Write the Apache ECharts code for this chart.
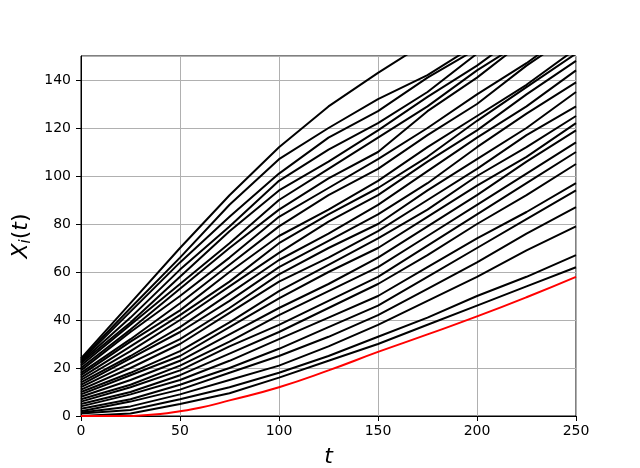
<!DOCTYPE html>
<html>
<head>
<meta charset="utf-8">
<script src="https://cdn.jsdelivr.net/npm/echarts@6/dist/echarts.min.js"></script>
<style>
  html, body { margin: 0; padding: 0; background: #fff; }
  #main { width: 640px; height: 468px; }
</style>
</head>
<body>
<div id="main"></div>
<script>
var myChart = echarts.init(document.getElementById('main'));

// sample times for the black paths
var tPoints = [0, 25, 50, 75, 100, 125, 150, 175, 200, 225, 250];

// X_i(t), top path first
var walks = [
	[24, 47, 70, 92, 112, 129, 143, 156, 166, 180, 194],
	[23.5, 45, 66, 88, 107, 120, 132, 142, 155, 166, 177],
	[23, 43.5, 64, 83, 101, 116, 127, 141, 153, 168, 180],
	[22.5, 41, 61, 79, 98, 111, 122, 135, 151, 165, 182],
	[22, 39, 58, 77, 94, 106, 119, 133, 146, 161, 174],
	[21, 38, 55, 72, 90, 103, 116, 129, 144, 157, 173],
	[20, 36, 53, 70, 86, 99, 110, 127, 141, 157, 172],
	[19, 35, 50, 66, 83, 95, 107, 120, 134, 147, 162],
	[18, 32, 47, 63, 79, 92, 103, 117, 130, 146, 160],
	[17, 31, 44, 60, 75, 86, 98, 112, 125, 138, 153],
	[16, 29, 42, 56, 72, 84, 95, 108, 123, 137, 151],
	[15, 27, 40, 54, 68, 81, 92, 106, 119, 134, 148],
	[14, 25, 37, 51, 65, 76, 88, 102, 116, 129, 144],
	[13, 24, 35, 48, 62, 73, 84, 97, 112, 126, 139],
	[12, 22, 32, 45, 59, 70, 80, 94, 107, 120, 135],
	[11, 20, 30, 43, 56, 66, 77, 90, 103, 117, 129],
	[10, 18, 27, 39, 52, 63, 74, 86, 100, 112, 125],
	[9, 17, 25, 37, 49, 60, 70, 83, 96, 108, 122],
	[8, 15, 23, 34, 45, 55, 66, 79, 92, 106, 119],
	[7, 13, 21, 31, 42, 52, 62, 75, 88, 101, 114],
	[6, 12, 19, 29, 38, 48, 58, 71, 84, 97, 110],
	[5, 10, 17, 26, 35, 45, 55, 67, 80, 92, 105],
	[4, 9, 15, 23, 32, 41, 50, 62, 74, 85, 97],
	[3, 7, 13, 20, 28, 37, 46, 58, 70, 82, 94],
	[2, 6, 11, 18, 25, 33, 42, 53, 64, 76, 87],
	[1.5, 4, 9, 15, 21, 29, 38, 48, 58, 69, 79],
	[1, 2.5, 7, 12, 18, 25, 33, 41, 50, 58, 67],
	[0, 1, 5, 9.5, 16, 23, 30, 38, 46, 54, 62]
];

// red lower curve
var redT = [0, 25, 30, 40, 50, 60, 75, 100, 125, 150, 175, 200, 225, 250];
var redX = [0, 0, 0.2, 0.8, 2, 3.4, 6.5, 12, 19, 26.7, 34, 41.5, 49.5, 58];

var font = 'DejaVu Sans';
var series = [];

for (var i = 0; i < walks.length; i++) {
	var pts = [];
	for (var j = 0; j < tPoints.length; j++) {
		pts.push([tPoints[j], walks[i][j]]);
	}
	series.push({
		type: 'line',
		data: pts,
		symbol: 'none',
		clip: true,
		lineStyle: { color: '#000', width: 2 },
		animation: false
	});
}

var redPts = [];
for (var k = 0; k < redT.length; k++) {
	redPts.push([redT[k], redX[k]]);
}
series.push({
	type: 'line',
	data: redPts,
	symbol: 'none',
	smooth: true,
	clip: true,
	lineStyle: { color: '#ff0000', width: 2 },
	animation: false
});

option = {
	grid: {
		left: 81,
		top: 56,
		width: 495,
		height: 360,
		outerBoundsMode: 'none',
		containLabel: false,
		show: true,
		borderColor: '#000',
		borderWidth: 1
	},
	xAxis: {
		type: 'value',
		min: 0,
		max: 250,
		interval: 50,
		name: 't',
		nameLocation: 'middle',
		nameGap: 30,
		nameTextStyle: { fontFamily: font, fontSize: 22, fontStyle: 'italic', color: '#000' },
		axisLine: { lineStyle: { color: '#000', width: 1 } },
		axisTick: { length: 5, lineStyle: { color: '#000' } },
		axisLabel: { fontFamily: font, fontSize: 14, color: '#000', margin: 8 },
		splitLine: { show: true, lineStyle: { color: '#b0b0b0', width: 1 } }
	},
	yAxis: {
		type: 'value',
		min: 0,
		max: 150,
		interval: 20,
		name: '{a|X}{b|i}{c|(}{a|t}{c|)}',
		nameLocation: 'middle',
		nameGap: 36,
		nameTextStyle: {
			color: '#000',
			rich: {
				a: { fontFamily: font, fontSize: 22, fontStyle: 'italic', color: '#000' },
				b: { fontFamily: font, fontSize: 15, fontStyle: 'italic', color: '#000', padding: [10, 0, 0, 0] },
				c: { fontFamily: font, fontSize: 22, color: '#000' }
			}
		},
		axisLine: { lineStyle: { color: '#000', width: 1 } },
		axisTick: { length: 5, lineStyle: { color: '#000' } },
		axisLabel: { fontFamily: font, fontSize: 14, color: '#000', margin: 10, showMaxLabel: false },
		splitLine: { show: true, lineStyle: { color: '#b0b0b0', width: 1 } }
	},
	series: series
};

myChart.setOption(option);
window.onresize = myChart.resize;
</script>
</body>
</html>
